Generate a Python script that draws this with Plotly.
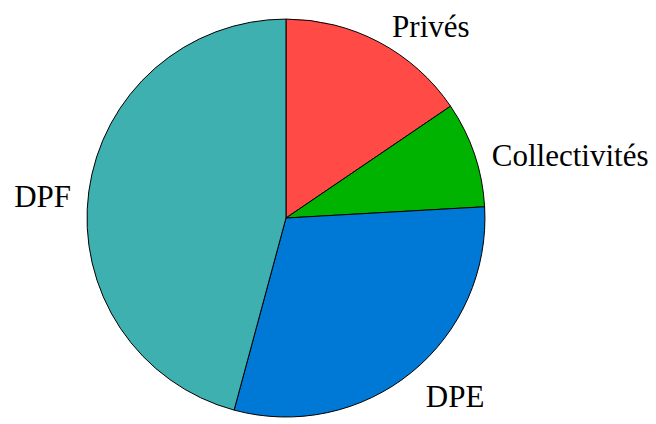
import plotly.graph_objects as go

# parts of the total (clockwise from 12 o'clock)
labels = ['Privés', 'Collectivités', 'DPE', 'DPF']
values = [15.5, 8.6, 30.1, 45.8]
colors = ['#FF4A45', '#00B300', '#0078D6', '#3EB0AF']

fig = go.Figure()

# the pie itself
fig.add_trace(
    go.Pie(labels=labels, values=values, sort=False, direction='clockwise',
           rotation=0, textinfo='none', automargin=False,
           marker=dict(colors=colors, line=dict(color='#000000', width=1)),
           domain=dict(x=[0.1204, 0.7271], y=[0.0354, 0.9739]),
           showlegend=False, hoverinfo='label+percent')
)

# invisible, slightly larger copy that only carries the outside labels
# (pushes the labels a bit further away from the pie, like the reference)
fig.add_trace(
    go.Pie(labels=labels, values=values, sort=False, direction='clockwise',
           rotation=0, textinfo='label', textposition='outside', automargin=False,
           marker=dict(colors=['rgba(0,0,0,0)'] * len(labels), line=dict(width=0)),
           textfont=dict(family='Liberation Serif', size=31, color='#000000'),
           domain=dict(x=[0.1067, 0.7409], y=[0.0, 0.9811]),
           showlegend=False, hoverinfo='skip')
)

fig.update_layout(
    width=656, height=424, showlegend=False,
    margin=dict(l=0, r=0, t=0, b=0, autoexpand=False),
    paper_bgcolor='white', plot_bgcolor='white'
)

fig.write_html("out.html")
